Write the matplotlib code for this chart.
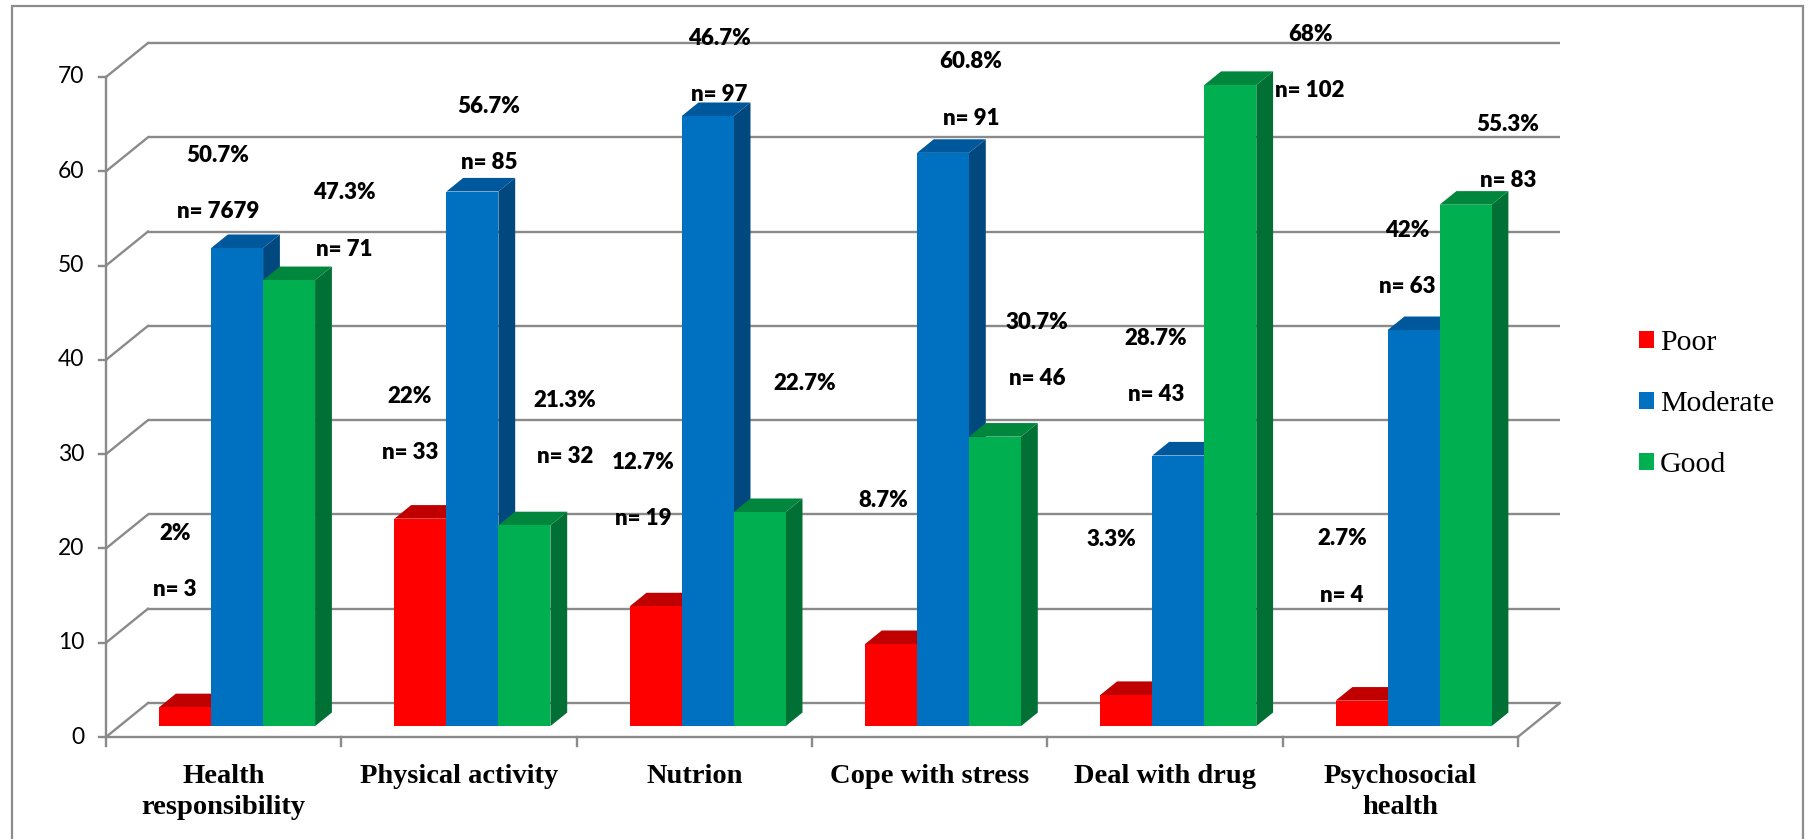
import matplotlib
matplotlib.use("Agg")
import matplotlib.pyplot as plt
from matplotlib.patches import Polygon, Patch, Rectangle

# ---- data -------------------------------------------------------------
categories = ["Health\nresponsibility", "Physical activity", "Nutrion",
              "Cope with stress", "Deal with drug", "Psychosocial\nhealth"]
series_names = ["Poor", "Moderate", "Good"]
poor = [2.0, 22.0, 12.7, 8.7, 3.3, 2.7]
moderate = [50.7, 56.7, 64.7, 60.8, 28.7, 42.0]
good = [47.3, 21.3, 22.7, 30.7, 68.0, 55.3]

poor_pct_text = ["2%", "22%", "12.7%", "8.7%", "3.3%", "2.7%"]
moderate_pct_text = ["50.7%", "56.7%", "46.7%", "60.8%", "28.7%", "42%"]
good_pct_text = ["47.3%", "21.3%", "22.7%", "30.7%", "68%", "55.3%"]
poor_n_text = ["n= 3", "n= 33", "n= 19", "", "", "n= 4"]
moderate_n_text = ["n= 7679", "n= 85", "n= 97", "n= 91", "n= 43", "n= 63"]
good_n_text = ["n= 71", "n= 32", "", "n= 46", "n= 102", "n= 83"]

yticks = [0, 10, 20, 30, 40, 50, 60, 70]

# ---- layout / style ---------------------------------------------------
W, H, DPI = 1811, 839, 100
X0_PX, CAT_PX = 106.0, 235.3       # left of plot floor, width of one category
Y0_PX, UNIT_PX = 102.0, 9.4286     # baseline height, pixels per value unit
DEPTH_X = 42.0 / CAT_PX            # oblique depth offset in chart units
DEPTH_Y = 34.0 / UNIT_PX
BAR_W = 52.0 / CAT_PX
D_FRONT, D_BACK = 0.32, 0.72       # depth span of the bars

face_colors = ["#FF0000", "#0070C0", "#00B050"]
top_colors = ["#C00000", "#00589C", "#00873D"]
side_colors = ["#A00000", "#00487E", "#007034"]
grid_color = "#8A8A8A"

# label anchors (category units, value units) for the percentage labels
poor_lbl_xy = [(0.293, 21.6), (1.292, 36.1), (2.282, 29.1),
               (3.302, 25.1), (4.271, 20.9), (5.253, 21.0)]
moderate_lbl_xy = [(0.476, 61.7), (1.628, 66.9), (2.607, 74.1),
                   (3.676, 71.6), (4.462, 42.3), (5.529, 53.7)]
good_lbl_xy = [(1.011, 57.7), (1.951, 35.7), (2.971, 37.5),
               (3.957, 44.0), (5.117, 74.5), (5.958, 65.0)]
N_GAP = 5.95

plt.rcParams["font.family"] = ["Lato", "DejaVu Sans"]

fig = plt.figure(figsize=(W / DPI, H / DPI), dpi=DPI)
ax = fig.add_axes([0, 0, 1, 1])
ax.set_xlim(-X0_PX / CAT_PX, (W - X0_PX) / CAT_PX)
ax.set_ylim(-Y0_PX / UNIT_PX, (H - Y0_PX) / UNIT_PX)
ax.axis("off")


def proj(x, y, d):
    return (x + d * DEPTH_X, y + d * DEPTH_Y)


ncat = len(categories)
lw = 1.7

# back wall gridlines and left-wall diagonals
for t in yticks:
    (xa, ya), (xb, yb) = proj(0, t, 1), proj(ncat, t, 1)
    ax.plot([xa, xb], [ya, yb], color=grid_color, lw=lw, zorder=1,
            solid_capstyle="butt")
    (xc, yc) = proj(0, t, 0)
    ax.plot([xc, xa], [yc, ya], color=grid_color, lw=lw, zorder=1)
    ax.plot([xc - 7 / CAT_PX, xc], [yc, yc], color=grid_color, lw=lw, zorder=1)
    ax.text(xc - 22 / CAT_PX, yc, str(t), ha="right", va="center",
            fontsize=16.5, color="black")

# front value axis, floor edge and right floor diagonal
ax.plot([0, 0], [0, yticks[-1]], color=grid_color, lw=lw, zorder=1)
ax.plot([0, ncat], [0, 0], color=grid_color, lw=lw, zorder=1)
(xr, yr) = proj(ncat, 0, 1)
ax.plot([ncat, xr], [0, yr], color=grid_color, lw=lw, zorder=1)
for k in range(ncat + 1):
    ax.plot([k, k], [0, -9 / UNIT_PX], color=grid_color, lw=lw, zorder=1)

# category labels
for i, name in enumerate(categories):
    ax.text(i + 0.5, -27 / UNIT_PX, name, ha="center", va="top",
            fontsize=20.5, fontweight="bold", family="Liberation Serif",
            linespacing=1.3)

# 3-D bars
series = [poor, moderate, good]
group_left = (1 - 3 * BAR_W) / 2
for j, vals in enumerate(series):
    xs = [i + group_left + j * BAR_W + D_FRONT * DEPTH_X for i in range(ncat)]
    bars = ax.bar(xs, vals, width=BAR_W, bottom=D_FRONT * DEPTH_Y,
                  align="edge", color=face_colors[j], linewidth=0)
    for i, (b, v) in enumerate(zip(bars, vals)):
        z = 10 + 2 * j
        b.set_zorder(z + 1)
        xl = i + group_left + j * BAR_W
        xr_ = xl + BAR_W
        top = [proj(xl, v, D_FRONT), proj(xr_, v, D_FRONT),
               proj(xr_, v, D_BACK), proj(xl, v, D_BACK)]
        side = [proj(xr_, 0, D_FRONT), proj(xr_, v, D_FRONT),
                proj(xr_, v, D_BACK), proj(xr_, 0, D_BACK)]
        ax.add_patch(Polygon(side, closed=True, facecolor=side_colors[j],
                             edgecolor="none", zorder=z))
        ax.add_patch(Polygon(top, closed=True, facecolor=top_colors[j],
                             edgecolor="none", zorder=z))

# data labels
lbl_kw = dict(ha="center", va="center", fontsize=16, fontweight="heavy",
              color="black", zorder=30)
for pct_text, n_text, xy in [(poor_pct_text, poor_n_text, poor_lbl_xy),
                             (moderate_pct_text, moderate_n_text, moderate_lbl_xy),
                             (good_pct_text, good_n_text, good_lbl_xy)]:
    for p, n, (lx, ly) in zip(pct_text, n_text, xy):
        ax.text(lx, ly, p, **lbl_kw)
        if n:
            ax.text(lx, ly - N_GAP, n, **lbl_kw)

# legend
handles = [Patch(facecolor=c, edgecolor="none") for c in face_colors]
leg = ax.legend(handles, series_names, loc="center left",
                bbox_to_anchor=(1624 / W, 1 - 404 / H), frameon=False,
                prop={"family": "Liberation Serif", "size": 21.5},
                handlelength=0.5, handleheight=0.5, handletextpad=0.2,
                labelspacing=1.18, borderpad=0)

# outer frame
ax.add_patch(Rectangle((12 / W, -0.01), (1803 - 12) / W, 1.01 - 6 / H,
                       transform=ax.transAxes, fill=False,
                       edgecolor="#8C8C8C", lw=1.6, zorder=50))

fig.savefig("out.png", dpi=DPI)
